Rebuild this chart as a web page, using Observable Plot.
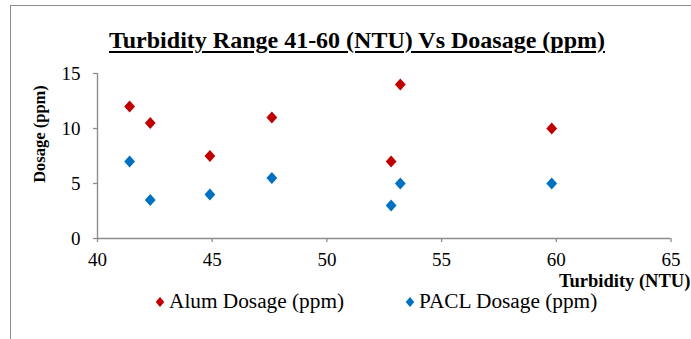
<!DOCTYPE html>
<html>
<head>
<meta charset="utf-8">
<script src="https://cdn.jsdelivr.net/npm/d3@7"></script>
<script src="https://cdn.jsdelivr.net/npm/@observablehq/plot@0.6"></script>
<style>
  html, body { margin: 0; padding: 0; background: #fff; }
  #wrap { position: relative; width: 691px; height: 339px; overflow: hidden; font-family: "Liberation Serif", "Times New Roman", serif; line-height: 1; }
  #frame { position: absolute; left: 10px; top: 5px; width: 700px; height: 400px; border: 1.3px solid #8c8c8c; box-sizing: border-box; }
  #title { position: absolute; left: 0; width: 714px; top: 27.5px; text-align: center; font-size: 24px; font-weight: bold; text-decoration: underline; text-decoration-thickness: 1.6px; text-underline-offset: 3px; }
  #ytitle { position: absolute; left: 40px; top: 134px; transform: translate(-50%, -50%) rotate(-90deg); font-size: 16.5px; font-weight: bold; white-space: nowrap; }
  #xtitle { position: absolute; right: 0.7px; top: 271.8px; font-size: 18.5px; font-weight: bold; white-space: nowrap; }
  #legend { position: absolute; top: 291.3px; left: 0; font-size: 21.3px; white-space: nowrap; }
  .li { position: absolute; top: 0; display: flex; align-items: center; height: 21px; }
  .li svg { margin-right: 4px; }
  #wrap > svg { position: absolute; left: 0; top: 0; }
  #wrap > svg text { font-family: "Liberation Serif", "Times New Roman", serif !important; }
</style>
</head>
<body>
<div id="wrap">
  <div id="frame"></div>
  <div id="title">Turbidity Range 41-60 (NTU) Vs Doasage (ppm)</div>
  <div id="ytitle">Dosage (ppm)</div>
  <div id="xtitle">Turbidity (NTU)</div>
  <div id="legend"></div>
</div>
<script>
const turbidity = [41.4, 42.3, 44.9, 47.6, 52.8, 53.2, 59.8];
const alumDosage = [12, 10.5, 7.5, 11, 7, 14, 10];
const paclDosage = [7, 3.5, 4, 5.5, 3, 5, 5];
const seriesNames = ["Alum Dosage (ppm)", "PACL Dosage (ppm)"];
const seriesColors = ["#C00000", "#0070C0"];
const xTicks = [40, 45, 50, 55, 60, 65];
const yTicks = [0, 5, 10, 15];

const data = [];
turbidity.forEach((t, i) => {
  data.push({turbidity: t, dosage: alumDosage[i], series: seriesNames[0]});
  data.push({turbidity: t, dosage: paclDosage[i], series: seriesNames[1]});
});

const diamond = {
  draw(ctx, size) {
    const r = Math.sqrt(size / Math.PI);
    const w = r * 0.9;
    ctx.moveTo(0, -r);
    ctx.lineTo(w, 0);
    ctx.lineTo(0, r);
    ctx.lineTo(-w, 0);
    ctx.closePath();
  }
};

const gray = "#8c8c8c";
const serif = "Liberation Serif, Times New Roman, serif";
const chart = Plot.plot({
  width: 691,
  height: 339,
  marginLeft: 97,
  marginRight: 20.5,
  marginTop: 73,
  marginBottom: 101,
  style: {fontSize: "19px", fontFamily: serif, background: "transparent", color: "#000", overflow: "visible"},
  x: {domain: [40, 65]},
  y: {domain: [0, 15]},
  color: {domain: seriesNames, range: seriesColors},
  marks: [
    Plot.ruleX([40], {stroke: gray, strokeWidth: 1.4}),
    Plot.ruleY([0], {stroke: gray, strokeWidth: 1.4}),
    Plot.axisX({ticks: xTicks, tickSize: 4, tickPadding: 10, stroke: gray, strokeWidth: 1.3, fill: "#000", fontFamily: serif, fontSize: 19, label: null, tickFormat: d => d}),
    Plot.axisY({ticks: yTicks, tickSize: 4, tickPadding: 13, stroke: gray, strokeWidth: 1.3, fill: "#000", fontFamily: serif, fontSize: 19, label: null, tickFormat: d => d}),
    Plot.dot(data, {x: "turbidity", y: "dosage", fill: "series", stroke: "none", symbol: diamond, r: 6})
  ]
});
document.getElementById("wrap").appendChild(chart);

const legend = document.getElementById("legend");
const diamondCenters = [160, 410];
seriesNames.forEach((name, i) => {
  const item = document.createElement("div");
  item.className = "li";
  item.style.left = (diamondCenters[i] - 5) + "px";
  item.innerHTML = `<svg width="10" height="12" viewBox="-5 -6 10 12"><path d="M0,-5L4.3,0L0,5L-4.3,0Z" fill="${seriesColors[i]}"/></svg><span>${name}</span>`;
  legend.appendChild(item);
});
</script>
</body>
</html>
